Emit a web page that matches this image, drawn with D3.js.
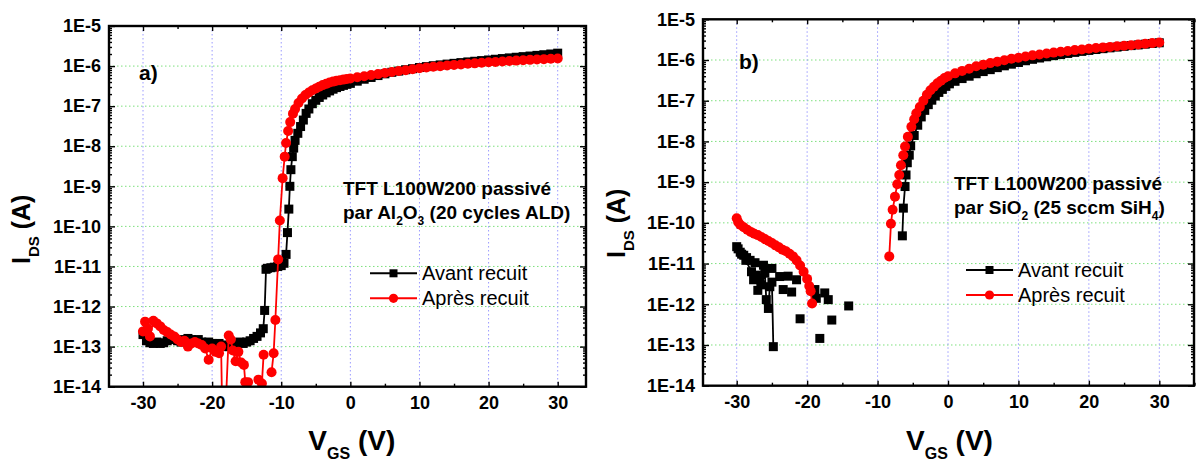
<!DOCTYPE html>
<html><head><meta charset="utf-8">
<script src="https://cdn.jsdelivr.net/npm/d3@7"></script>
<style>body{margin:0;background:#fff}svg{display:block}</style>
</head><body>
<svg id="chart" width="1196" height="462"></svg>
<script>
// ---------- DATA (V_GS in volts, I_DS in amps; null = gap in curve) ----------
const seriesNames = ["Avant recuit", "Après recuit"];
const xMajorTicks = [-30, -20, -10, 0, 10, 20, 30];
const xMinorTicks = [-35, -25, -15, -5, 5, 15, 25, 35];
const yDecadeExps = [-14, -13, -12, -11, -10, -9, -8, -7, -6, -5];

// panel a) Al2O3 passivation
const aAvant = [[-30,2.0e-13],[-29.5,1.4e-13],[-29,1.25e-13],[-28.5,1.2e-13],[-28,1.3e-13],[-27.5,1.2e-13],[-27,1.25e-13],[-26.5,1.4e-13],[-26,1.5e-13],[-25.5,1.6e-13],[-25,1.4e-13],[-24.5,1.3e-13],[-24,1.5e-13],[-23.5,1.6e-13],[-23,1.5e-13],[-22.5,1.4e-13],[-22,1.5e-13],[-21.5,1.3e-13],[-21,1.2e-13],[-20.5,1.3e-13],[-20,1.2e-13],[-19.5,1.05e-13],[-19,1.2e-13],[-18.5,1.0e-13],[-18,1.1e-13],[-17.5,1.0e-13],[-17,0.9e-13],[-16.5,1.1e-13],[-16,1.3e-13],[-15.5,1.2e-13],[-15,1.3e-13],[-14.5,1.4e-13],[-14,1.6e-13],[-13.5,1.8e-13],[-13,2.2e-13],[-12.6,2.8e-13],[-12.4,8e-13],[-12.2,8.5e-12],[-12,9e-12],[-11.5,9.3e-12],[-11,9.6e-12],[-10.5,1.0e-11],[-10,1.05e-11],[-9.6,1.2e-11],[-9.3,2e-11],[-9.1,7e-11],[-8.9,2.7e-10],[-8.75,1e-9],[-8.6,2.6e-9],[-8.4,5.5e-9],[-8.2,9e-9],[-8,1.4e-8],[-7.6,2.1e-8],[-7.2,3.1e-8],[-6.8,4.5e-8],[-6.4,6.6e-8],[-6,8.5e-8],[-5.5,1.15e-7],[-5,1.4e-7],[-4.5,1.65e-7],[-4,1.9e-7],[-3.5,2.15e-7],[-3,2.4e-7],[-2.5,2.65e-7],[-2,2.9e-7],[-1.5,3.1e-7],[-1,3.3e-7],[-0.5,3.5e-7],[0,3.7e-7],[1,4.2e-7],[2,4.7e-7],[3,5.2e-7],[4,5.8e-7],[5,6.4e-7],[6,7.0e-7],[7,7.5e-7],[8,8.1e-7],[9,8.6e-7],[10,9.2e-7],[11,9.7e-7],[12,1.02e-6],[13,1.07e-6],[14,1.12e-6],[15,1.17e-6],[16,1.22e-6],[17,1.27e-6],[18,1.32e-6],[19,1.37e-6],[20,1.42e-6],[21,1.48e-6],[22,1.54e-6],[23,1.6e-6],[24,1.66e-6],[25,1.72e-6],[26,1.78e-6],[27,1.85e-6],[28,1.92e-6],[29,2.0e-6],[30,2.1e-6]];
const aApres = [[-30,2.4e-13],[-29.7,4.2e-13],[-29.3,2.8e-13],[-29,1.8e-13],[-28.5,4.4e-13],[-28,3.8e-13],[-27.5,3.2e-13],[-27,2.6e-13],[-26.5,2.3e-13],[-26,2.0e-13],[-25.5,1.8e-13],[-25,1.5e-13],[-24.5,1.3e-13],[-24,1.4e-13],[-23.5,1.0e-13],[-23,1.2e-13],[-22.5,1.3e-13],[-22,1.2e-13],[-21.5,1.1e-13],[-21,9e-14],[-20.5,4.7e-14],[-20,9e-14],[-19.5,7.4e-14],[-19,6.8e-14],[-18.7,1.0e-13],[-18.4,1e-16],[-17.6,1.9e-13],[-17.3,1.5e-13],[-17,8e-14],[-16.6,4.3e-14],[-16.2,7.4e-14],[-15.8,4e-14],[-15.4,3.5e-14],[-15.2,1.3e-14],[-14.8,1.3e-14],[-14.2,null],[-13.3,1.5e-14],[-12.8,1.2e-14],[-12.55,6.3e-14],[-12,null],[-11.4,2.3e-14],[-11.1,6.8e-14],[-10.85,4.6e-13],[-10.45,1.5e-11],[-10.2,1.4e-10],[-9.8,1.6e-9],[-9.5,5.5e-9],[-9.3,1.2e-8],[-9,2.4e-8],[-8.7,4e-8],[-8.3,6.5e-8],[-8,8.5e-8],[-7.5,1.2e-7],[-7,1.55e-7],[-6.5,1.9e-7],[-6,2.2e-7],[-5.5,2.5e-7],[-5,2.75e-7],[-4.5,3.05e-7],[-4,3.35e-7],[-3.5,3.6e-7],[-3,3.9e-7],[-2.5,4.1e-7],[-2,4.3e-7],[-1.5,4.45e-7],[-1,4.6e-7],[-0.5,4.75e-7],[0,4.9e-7],[1,5.25e-7],[2,5.6e-7],[3,5.95e-7],[4,6.3e-7],[5,6.7e-7],[6,7.1e-7],[7,7.5e-7],[8,7.9e-7],[9,8.35e-7],[10,8.8e-7],[11,9.2e-7],[12,9.6e-7],[13,9.95e-7],[14,1.03e-6],[15,1.07e-6],[16,1.1e-6],[17,1.14e-6],[18,1.17e-6],[19,1.21e-6],[20,1.24e-6],[21,1.27e-6],[22,1.3e-6],[23,1.34e-6],[24,1.37e-6],[25,1.4e-6],[26,1.43e-6],[27,1.46e-6],[28,1.49e-6],[29,1.52e-6],[30,1.55e-6]];

// panel b) SiO2 passivation
const bAvant = [[-30,2.6e-11],[-29.5,1.9e-11],[-29,1.6e-11],[-28.6,1.4e-11],[-28.1,1.2e-11],[-27.4,1.05e-11],[-26.2,9.1e-12],[-25,7.6e-12],[-25,null],
  [-29.8,2.3e-11],[-29.3,1.7e-11],[-28.7,1.2e-11],[-27.9,6.3e-12],[-27.6,4e-12],[-27.2,5.2e-12],[-27,2.2e-12],[-26.7,4.4e-12],[-26.5,3e-12],[-26,5.8e-12],[-25.8,1.3e-12],[-25.5,7.9e-13],[-25.3,2.7e-12],[-25,3.5e-12],[-24.8,9.1e-14],[-24.5,null],
  [-23.9,4.8e-12],[-23.6,null],[-23.4,2.3e-12],[-23,null],[-22.7,4.9e-12],[-22.5,null],[-22.2,2e-12],[-22,null],[-21.5,4e-12],[-21.2,null],[-21,4.4e-13],[-20,null],
  [-18.9,2.3e-12],[-18.8,null],[-18.7,1.4e-12],[-18.5,null],[-18.2,1.45e-13],[-18,null],[-17.5,1.9e-12],[-17.2,null],[-17,1.3e-12],[-16.8,null],[-16.5,4.1e-13],[-15,null],[-14.1,9.1e-13],[-10,null],
  [-6.48,4.8e-11],[-6.34,2.3e-10],[-6.1,7.8e-10],[-5.96,1.5e-9],[-5.78,3e-9],[-5.5,4.6e-9],[-5.3,7.8e-9],[-4.8,1.4e-8],[-4.3,2.5e-8],[-3.8,4e-8],[-3.3,5.8e-8],[-2.8,8e-8],[-2.3,1.03e-7],[-1.8,1.3e-7],[-1.3,1.6e-7],[-0.8,1.9e-7],[-0.3,2.25e-7],[0.2,2.6e-7],[1,3.0e-7],[2,3.5e-7],[3,4.0e-7],[4,4.6e-7],[5,5.2e-7],[6,5.8e-7],[7,6.5e-7],[8,7.2e-7],[9,7.9e-7],[10,8.7e-7],[11,9.6e-7],[12,1.04e-6],[13,1.12e-6],[14,1.2e-6],[15,1.28e-6],[16,1.36e-6],[17,1.45e-6],[18,1.54e-6],[19,1.63e-6],[20,1.72e-6],[21,1.81e-6],[22,1.9e-6],[23,1.99e-6],[24,2.08e-6],[25,2.17e-6],[26,2.26e-6],[27,2.35e-6],[28,2.45e-6],[29,2.55e-6],[30,2.65e-6]];
const bApres = [[-30,1.3e-10],[-29.8,1.05e-10],[-29.5,9e-11],[-29,7.8e-11],[-28.5,6.8e-11],[-28,6e-11],[-27.5,5.4e-11],[-27,5e-11],[-26.5,4.5e-11],[-26,4e-11],[-25.5,3.6e-11],[-25,3.2e-11],[-24.5,2.8e-11],[-24,2.5e-11],[-23.5,2.2e-11],[-23,2e-11],[-22.5,1.75e-11],[-22,1.5e-11],[-21.5,1.2e-11],[-21,9e-12],[-20.5,6.3e-12],[-20,4.2e-12],[-19.7,2.8e-12],[-19.5,2.1e-12],[-19.3,1.05e-12],[-19,null],
  [-8.34,1.5e-11],[-8.1,9.5e-11],[-7.86,2.1e-10],[-7.53,4.4e-10],[-7.2,8.9e-10],[-6.92,1.5e-9],[-6.68,2.6e-9],[-6.35,4.6e-9],[-6.1,7.5e-9],[-5.7,1.3e-8],[-5.2,2.3e-8],[-4.8,3.5e-8],[-4.5,4.9e-8],[-4,7e-8],[-3.5,1e-7],[-3,1.4e-7],[-2.5,1.8e-7],[-2,2.2e-7],[-1.5,2.7e-7],[-1,3.1e-7],[-0.5,3.6e-7],[0,4e-7],[1,4.7e-7],[2,5.4e-7],[3,6.1e-7],[4,7e-7],[5,7.7e-7],[6,8.4e-7],[7,9.1e-7],[8,9.9e-7],[9,1.07e-6],[10,1.14e-6],[11,1.22e-6],[12,1.3e-6],[13,1.37e-6],[14,1.45e-6],[15,1.52e-6],[16,1.6e-6],[17,1.67e-6],[18,1.75e-6],[19,1.82e-6],[20,1.9e-6],[21,1.97e-6],[22,2.04e-6],[23,2.1e-6],[24,2.17e-6],[25,2.24e-6],[26,2.32e-6],[27,2.4e-6],[28,2.5e-6],[29,2.6e-6],[30,2.7e-6]];

// annotation texts (rich pieces: [text, isSubscript])
const noteA1 = "TFT L100W200 passivé";
const noteA2 = [["par Al",0],["2",1],["O",0],["3",1],[" (20 cycles ALD)",0]];
const noteB1 = "TFT L100W200 passivé";
const noteB2 = [["par SiO",0],["2",1],[" (25 sccm SiH",0],["4",1],[")",0]];
const panelLabels = ["a)", "b)"];

// ---------- LAYOUT ----------
const FONT = "'Liberation Sans', Arial, Helvetica, sans-serif";
const COLORS = ["#000000", "#ff0000"];
const SQ = 9, CR = 5;
const panels = [
  {left:109, right:586, top:26, bottom:386.7, xr:[143,557.7], data:[aAvant,aApres], label:panelLabels[0], labelPos:[139,80],
   note1:noteA1, note2:noteA2, notePos:[343,195], legX:[370,417], legY:[273.3,298.3], yTitle:[30,264]},
  {left:703, right:1194, top:19.3, bottom:385.7, xr:[736.7,1159.3], data:[bAvant,bApres], label:panelLabels[1], labelPos:[739,69],
   note1:noteB1, note2:noteB2, notePos:[954,190], legX:[966,1013], legY:[270,295], yTitle:[625,258]}
];

const svg = d3.select("#chart");

panels.forEach((p, pi) => {
  const x = d3.scaleLinear().domain([-30, 30]).range(p.xr);
  const y = d3.scaleLog().domain([1e-14, 1e-5]).range([p.bottom, p.top]);
  const g = svg.append("g");
  const W = p.right - p.left, H = p.bottom - p.top;

  const clipId = "clip" + pi;
  svg.append("defs").append("clipPath").attr("id", clipId)
    .append("rect").attr("x", p.left).attr("y", p.top).attr("width", W).attr("height", H);

  // grid
  const decades = yDecadeExps.map(e => Math.pow(10, e));
  g.append("g").selectAll("line").data(decades.filter(d => d > 1.5e-14 && d < 0.9e-5)).join("line")
    .attr("x1", p.left).attr("x2", p.right).attr("y1", d => y(d)).attr("y2", d => y(d))
    .attr("stroke", "#7ee07e").attr("stroke-width", 1).attr("stroke-dasharray", "1.5,2.5");
  g.append("g").selectAll("line").data(xMajorTicks).join("line")
    .attr("x1", d => x(d)).attr("x2", d => x(d)).attr("y1", p.top).attr("y2", p.bottom)
    .attr("stroke", "#9a9aff").attr("stroke-width", 1).attr("stroke-dasharray", "1.5,2.5");

  // axes
  const inside = v => x(v) >= p.left - 1 && x(v) <= p.right + 1;
  const majX = xMajorTicks.filter(inside), minX = xMinorTicks.filter(inside);
  const minorY = [];
  yDecadeExps.slice(0, -1).forEach(e => { for (let k = 2; k <= 9; k++) minorY.push(k * Math.pow(10, e)); });
  const styleAxis = sel => { sel.select(".domain").remove(); sel.selectAll(".tick line").attr("stroke", "#000").attr("stroke-width", 1.4); };

  g.append("g").attr("transform", `translate(0,${p.bottom})`)
    .call(d3.axisBottom(x).tickValues(majX).tickSizeInner(-5).tickSizeOuter(0).tickPadding(10).tickFormat(d3.format("d")))
    .call(styleAxis)
    .call(s => s.selectAll("text").attr("font-family", FONT).attr("font-size", 18).attr("font-weight", "bold").attr("fill", "#000").text(d => String(d)));
  g.append("g").attr("transform", `translate(0,${p.bottom})`)
    .call(d3.axisBottom(x).tickValues(minX).tickSizeInner(-3).tickSizeOuter(0).tickFormat("")).call(styleAxis);
  g.append("g").attr("transform", `translate(0,${p.top})`)
    .call(d3.axisTop(x).tickValues(majX).tickSizeInner(-5).tickSizeOuter(0).tickFormat("")).call(styleAxis);
  g.append("g").attr("transform", `translate(0,${p.top})`)
    .call(d3.axisTop(x).tickValues(minX).tickSizeInner(-3).tickSizeOuter(0).tickFormat("")).call(styleAxis);

  g.append("g").attr("transform", `translate(${p.left},0)`)
    .call(d3.axisLeft(y).tickValues(decades).tickSizeInner(-6).tickSizeOuter(0).tickPadding(8)
      .tickFormat(d => "1E" + Math.round(Math.log10(d))))
    .call(styleAxis)
    .call(s => s.selectAll("text").attr("font-family", FONT).attr("font-size", 18).attr("font-weight", "bold").attr("fill", "#000"));
  g.append("g").attr("transform", `translate(${p.left},0)`)
    .call(d3.axisLeft(y).tickValues(minorY).tickSizeInner(-3).tickSizeOuter(0).tickFormat("")).call(styleAxis);
  g.append("g").attr("transform", `translate(${p.right},0)`)
    .call(d3.axisRight(y).tickValues(decades).tickSizeInner(-6).tickSizeOuter(0).tickFormat("")).call(styleAxis);
  g.append("g").attr("transform", `translate(${p.right},0)`)
    .call(d3.axisRight(y).tickValues(minorY).tickSizeInner(-3).tickSizeOuter(0).tickFormat("")).call(styleAxis);

  // series
  const plot = g.append("g").attr("clip-path", `url(#${clipId})`);
  const line = d3.line().defined(d => d[1] != null).x(d => x(d[0])).y(d => y(d[1]));
  p.data.forEach((ser, si) => {
    const sg = plot.append("g");
    sg.append("path").datum(ser).attr("d", line).attr("fill", "none")
      .attr("stroke", COLORS[si]).attr("stroke-width", 1.8);
    const pts = ser.filter(d => d[1] != null);
    if (si === 0) {
      sg.selectAll("rect").data(pts).join("rect")
        .attr("x", d => x(d[0]) - SQ / 2).attr("y", d => y(d[1]) - SQ / 2).attr("width", SQ).attr("height", SQ).attr("fill", COLORS[si]);
    } else {
      sg.selectAll("circle").data(pts).join("circle")
        .attr("cx", d => x(d[0])).attr("cy", d => y(d[1])).attr("r", CR).attr("fill", COLORS[si]);
    }
  });

  // frame
  g.append("rect").attr("x", p.left).attr("y", p.top).attr("width", W).attr("height", H)
    .attr("fill", "none").attr("stroke", "#000").attr("stroke-width", 2.4);

  // panel label
  g.append("text").attr("x", p.labelPos[0]).attr("y", p.labelPos[1]).attr("font-family", FONT)
    .attr("font-size", 21).attr("font-weight", "bold").text(p.label);

  // annotation
  g.append("text").attr("x", p.notePos[0]).attr("y", p.notePos[1]).attr("font-family", FONT)
    .attr("font-size", 19).attr("font-weight", "bold").text(p.note1);
  const n2 = g.append("text").attr("x", p.notePos[0]).attr("y", p.notePos[1] + 23.5).attr("font-family", FONT)
    .attr("font-size", 19).attr("font-weight", "bold");
  let sub = 0;
  p.note2.forEach(([t, s]) => {
    const ts = n2.append("tspan").text(t);
    if (s && !sub) { ts.attr("dy", 6).attr("font-size", 12); sub = 1; }
    else if (!s && sub) { ts.attr("dy", -6); sub = 0; }
    else if (s) ts.attr("font-size", 12);
  });

  // legend
  seriesNames.forEach((name, si) => {
    const ly = p.legY[si], mx = (p.legX[0] + p.legX[1]) / 2;
    g.append("line").attr("x1", p.legX[0]).attr("x2", p.legX[1]).attr("y1", ly).attr("y2", ly)
      .attr("stroke", COLORS[si]).attr("stroke-width", 2);
    if (si === 0) g.append("rect").attr("x", mx - 4).attr("y", ly - 4).attr("width", 8).attr("height", 8).attr("fill", COLORS[si]);
    else g.append("circle").attr("cx", mx).attr("cy", ly).attr("r", 4.6).attr("fill", COLORS[si]);
    g.append("text").attr("x", p.legX[1] + 5).attr("y", ly + 7).attr("font-family", FONT)
      .attr("font-size", 20).text(name);
  });

  // axis titles
  const yt = g.append("text").attr("transform", `translate(${p.yTitle[0]},${p.yTitle[1]}) rotate(-90)`)
    .attr("font-family", FONT).attr("font-weight", "bold").attr("font-size", 25);
  yt.append("tspan").text("I");
  yt.append("tspan").attr("font-size", 15).attr("dy", 9).text("DS");
  yt.append("tspan").attr("dy", -9).text(" (A)");

  const xt = g.append("text").attr("x", x(0) - 42).attr("y", 450)
    .attr("font-family", FONT).attr("font-weight", "bold").attr("font-size", 28);
  xt.append("tspan").text("V");
  xt.append("tspan").attr("font-size", 16).attr("dy", 9).text("GS");
  xt.append("tspan").attr("dy", -9).text(" (V)");
});
</script>
</body></html>
